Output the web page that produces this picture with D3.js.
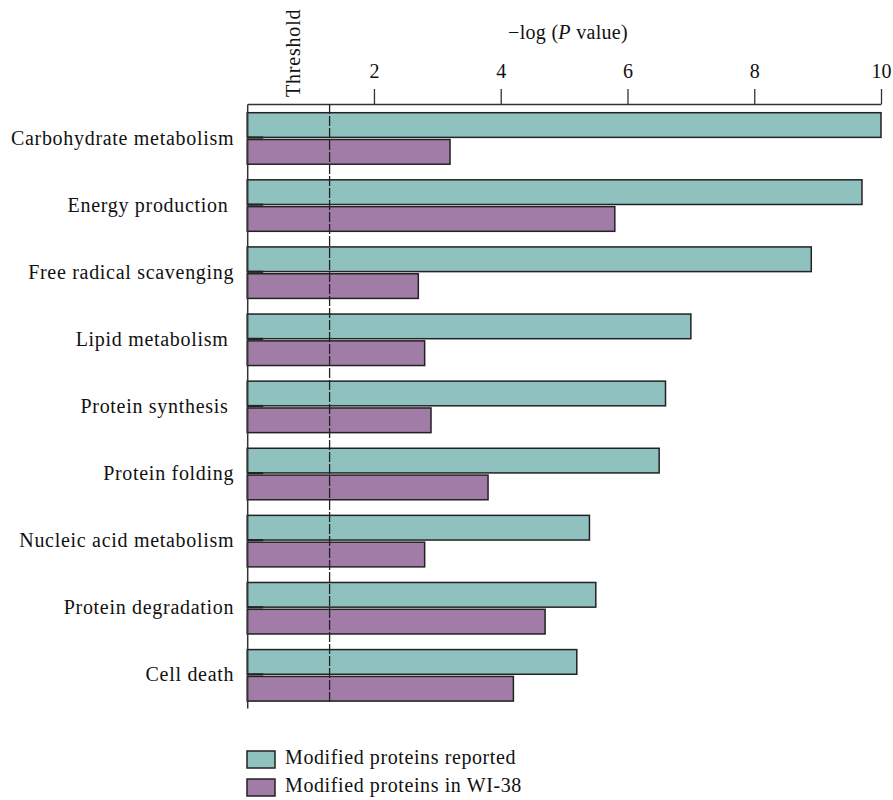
<!DOCTYPE html>
<html>
<head>
<meta charset="utf-8">
<script src="https://cdn.jsdelivr.net/npm/d3@7"></script>
<style>
  body { margin: 0; background: #fff; }
  svg text { font-family: "Liberation Serif", "Times New Roman", serif; white-space: pre; fill: #111; }
</style>
</head>
<body>
<div id="chart"></div>
<script>
// --- Data ---
const categories = [
  "Carbohydrate metabolism",
  "Energy production ",
  "Free radical scavenging",
  "Lipid metabolism ",
  "Protein synthesis ",
  "Protein folding",
  "Nucleic acid metabolism",
  "Protein degradation",
  "Cell death"
];
const seriesNames = ["Modified proteins reported", "Modified proteins in WI-38"];
const reported = [10.0, 9.7, 8.9, 7.0, 6.6, 6.5, 5.4, 5.5, 5.2];
const wi38 = [3.2, 5.8, 2.7, 2.8, 2.9, 3.8, 2.8, 4.7, 4.2];
const xTicks = [2, 4, 6, 8, 10];
const threshold = 1.3;

const colors = ["#8fc1bf", "#a07ca7"];

// --- Setup ---
const width = 893, height = 800;
const fontSize = 20;

const svg = d3.select("#chart").append("svg")
  .attr("width", width)
  .attr("height", height);

const x = d3.scaleLinear().domain([0, 10]).range([247.2, 881]);
const y = d3.scaleBand().domain(categories).range([104, 708]);
const sub = d3.scaleBand().domain(seriesNames)
  .range([8.7, 60.2])
  .paddingInner(0.08);

const rows = categories.map((c, i) => ({ cat: c, values: [reported[i], wi38[i]] }));

// --- Bars ---
const groups = svg.append("g").selectAll("g")
  .data(rows)
  .join("g")
  .attr("transform", d => `translate(0,${y(d.cat)})`);

groups.selectAll("rect")
  .data(d => d.values.map((v, j) => ({ v, s: seriesNames[j], j })))
  .join("rect")
  .attr("x", x(0))
  .attr("y", d => sub(d.s))
  .attr("width", d => x(d.v) - x(0))
  .attr("height", sub.bandwidth())
  .attr("fill", d => colors[d.j])
  .attr("stroke", "#222")
  .attr("stroke-width", 1.5);

// --- Top axis ---
const xAxis = svg.append("g")
  .attr("transform", "translate(0,104)")
  .call(d3.axisTop(x).tickValues(xTicks).tickSize(15).tickSizeOuter(0).tickPadding(11))
  .attr("font-family", null)
  .attr("font-size", null);
xAxis.select(".domain").attr("stroke", "#333").attr("stroke-width", 1.5);
xAxis.selectAll(".tick line").attr("stroke", "#333").attr("stroke-width", 1.3);
xAxis.selectAll(".tick text")
  .style("font-size", fontSize + "px")
  .attr("fill", "#111");

// --- Left axis ---
const yAxis = svg.append("g")
  .attr("transform", `translate(${x(0)},0)`)
  .call(d3.axisLeft(y).tickSize(-16).tickSizeOuter(0).tickPadding(13))
  .attr("font-family", null)
  .attr("font-size", null);
yAxis.select(".domain").attr("stroke", "#333").attr("stroke-width", 1.5);
yAxis.selectAll(".tick line").attr("stroke", "#222").attr("stroke-width", 2.2);
yAxis.selectAll(".tick text")
  .style("font-size", fontSize + "px")
  .style("letter-spacing", "0.7px")
  .attr("dy", "0.35em")
  .attr("fill", "#111");

// --- Threshold ---
svg.append("line")
  .attr("x1", x(threshold)).attr("x2", x(threshold))
  .attr("y1", 104).attr("y2", 702)
  .attr("stroke", "#222")
  .attr("stroke-width", 1.3)
  .attr("stroke-dasharray", "10,2");

svg.append("text")
  .attr("transform", `translate(300,97) rotate(-90)`)
  .style("font-size", fontSize + "px")
  .style("letter-spacing", "0.8px")
  .text("Threshold");

// --- Axis title ---
const title = svg.append("text")
  .attr("x", 568)
  .attr("y", 39)
  .attr("text-anchor", "middle")
  .style("font-size", fontSize + "px")
  .style("letter-spacing", "0.3px");
title.append("tspan").text("\u2212log (");
title.append("tspan").attr("font-style", "italic").text("P");
title.append("tspan").text(" value)");

// --- Legend ---
const legend = svg.append("g").selectAll("g")
  .data(seriesNames)
  .join("g")
  .attr("transform", (d, i) => `translate(247,${751 + i * 28})`);

legend.append("rect")
  .attr("width", 28)
  .attr("height", 17)
  .attr("fill", (d, i) => colors[i])
  .attr("stroke", "#222")
  .attr("stroke-width", 1.5);

legend.append("text")
  .attr("x", 38)
  .attr("y", 13)
  .style("font-size", fontSize + "px")
  .style("letter-spacing", "0.6px")
  .text(d => d);
</script>
</body>
</html>
